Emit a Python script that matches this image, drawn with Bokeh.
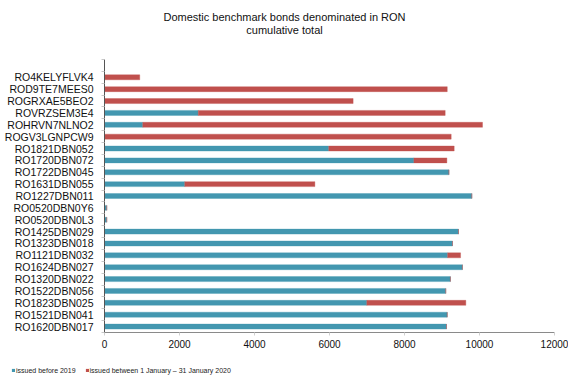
from bokeh.plotting import figure
from bokeh.layouts import column
from bokeh.models import FixedTicker, Legend, LegendItem, Label, Range1d
from bokeh.embed import file_html
from bokeh.resources import INLINE

# Bond codes, listed top to bottom
bonds = [
    "RO4KELYFLVK4", "ROD9TE7MEES0", "ROGRXAE5BEO2", "ROVRZSEM3E4",
    "ROHRVN7NLNO2", "ROGV3LGNPCW9", "RO1821DBN052", "RO1720DBN072",
    "RO1722DBN045", "RO1631DBN055", "RO1227DBN011", "RO0520DBN0Y6",
    "RO0520DBN0L3", "RO1425DBN029", "RO1323DBN018", "RO1121DBN032",
    "RO1624DBN027", "RO1320DBN022", "RO1522DBN056", "RO1823DBN025",
    "RO1521DBN041", "RO1620DBN017",
]
# Outstanding amounts issued before 2019
before_2019 = [
    0, 0, 0, 2500, 1020, 0, 5980, 8250, 9185, 2140, 9795, 60,
    60, 9440, 9280, 9150, 9545, 9225, 9100, 6995, 9140, 9120,
]
# Amounts issued between 1 January and 31 January 2020
jan_2020 = [
    940, 9140, 6630, 6585, 9060, 9245, 3345, 880, 0, 3470, 0, 0,
    0, 0, 0, 345, 0, 0, 0, 2640, 0, 0,
]
x_ticks = [0, 2000, 4000, 6000, 8000, 10000, 12000]
series_labels = ["issued before 2019", "issued between 1 January – 31 January 2020"]
heading = ["Domestic benchmark bonds denominated in RON", "cumulative total"]

BLUE = "#4397b0"
RED = "#c0504d"
FONT = "Liberation Sans"
W = 568


def strip(height):
    """A bare figure used only to hold text or a legend."""
    f = figure(
        width=W, height=height, output_backend="svg", toolbar_location=None,
        x_range=Range1d(0, W), y_range=Range1d(0, height),
        min_border_left=0, min_border_right=0, min_border_top=0, min_border_bottom=0,
    )
    f.frame_align = False
    f.axis.visible = False
    f.grid.grid_line_color = None
    f.outline_line_color = None
    return f


# heading strip
HEAD_H = 40
head = strip(HEAD_H)
for text, top in zip(heading, [16, 29.5]):
    head.add_layout(Label(x=W / 2, y=HEAD_H - top, text=text,
                          text_align="center", text_baseline="middle",
                          text_font=FONT, text_font_size="11px",
                          text_color="#111111"))

n = len(bonds)
slots = n + 1  # one empty slot above the first bond
ypos = [n - i - 0.5 for i in range(n)]
totals = [a + b for a, b in zip(before_2019, jan_2020)]

p = figure(
    width=W, height=321,
    output_backend="svg", toolbar_location=None,
    x_range=Range1d(0, 12000), y_range=Range1d(0, slots),
    min_border_left=104, min_border_right=14,
    min_border_top=19, min_border_bottom=29,
)
p.frame_align = False
p.outline_line_color = None
p.grid.grid_line_color = None
p.background_fill_color = "white"
p.border_fill_color = "white"

p.hbar(y=ypos, left=0, right=before_2019, height=0.42,
       fill_color=BLUE, line_color=BLUE, line_alpha=0.35, line_width=1)
p.hbar(y=ypos, left=before_2019, right=totals, height=0.42,
       fill_color=RED, line_color=RED, line_alpha=0.35, line_width=1)

# x axis
xa = p.xaxis[0]
xa.ticker = FixedTicker(ticks=x_ticks)
xa.axis_line_color = "#8a8a8a"
xa.major_tick_line_color = "#d0d0d0"
xa.major_tick_in = 0
xa.major_tick_out = 3
xa.minor_tick_line_color = None
xa.major_label_text_font = FONT
xa.major_label_text_font_size = "10px"
xa.major_label_text_color = "#111111"
xa.major_label_standoff = 4

# y axis: labels at the bar centres, small ticks between the bars
ya = p.yaxis[0]
ya.ticker = FixedTicker(ticks=ypos, minor_ticks=list(range(slots + 1)))
ya.major_label_overrides = {y: b for y, b in zip(ypos, bonds)}
ya.axis_line_color = "#555555"
ya.major_tick_line_color = None
ya.major_tick_in = 0
ya.major_tick_out = 0
ya.minor_tick_line_color = "#c8c8c8"
ya.minor_tick_in = 0
ya.minor_tick_out = 3
ya.major_label_text_font = FONT
ya.major_label_text_font_size = "10.5px"
ya.major_label_text_color = "#111111"
ya.major_label_standoff = 8

# legend strip under the chart
leg = strip(18)
# swatch renderers sit outside the visible range; only their legend glyphs show
sw_blue = leg.hbar(y=[-5], left=[-5], right=[-4], height=1, fill_color=BLUE, line_color=None)
sw_red = leg.hbar(y=[-5], left=[-5], right=[-4], height=1, fill_color=RED, line_color=None)
legend = Legend(
    items=[LegendItem(label=series_labels[0], renderers=[sw_blue]),
           LegendItem(label=series_labels[1], renderers=[sw_red])],
    orientation="horizontal",
    location=(11, 5),
    glyph_width=4, glyph_height=4,
    label_standoff=1, spacing=9,
    padding=0, margin=0,
    label_text_font=FONT, label_text_font_size="7px",
    label_text_color="#222222", label_height=8,
    border_line_color=None, background_fill_alpha=0,
)
leg.add_layout(legend)

open("out.html", "w").write(file_html(column(head, p, leg), INLINE))
